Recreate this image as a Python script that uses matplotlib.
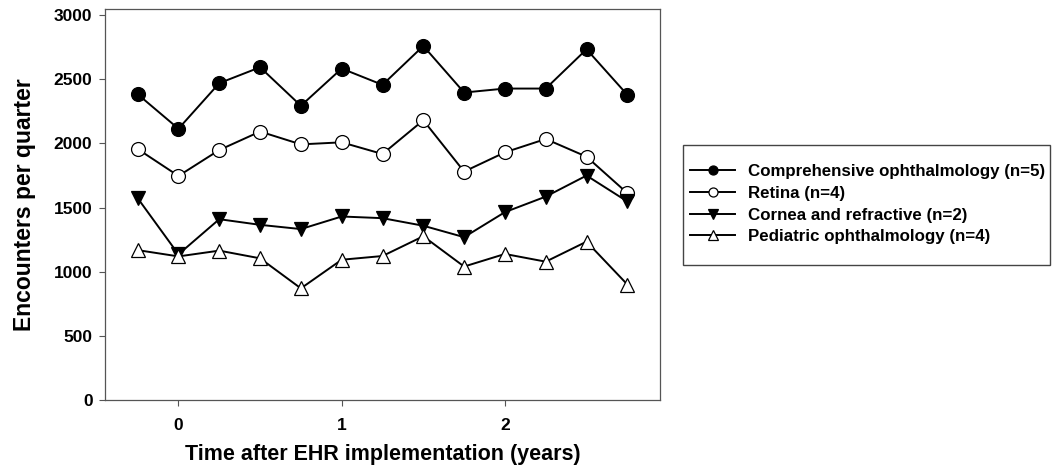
import matplotlib
matplotlib.use("Agg")
import matplotlib.pyplot as plt
from matplotlib.patches import Rectangle

plt.rcParams['font.family'] = ['Liberation Sans', 'DejaVu Sans']
plt.rcParams['font.weight'] = 'bold'

years = [-0.25, 0.0, 0.25, 0.5, 0.75, 1.0, 1.25, 1.5, 1.75, 2.0, 2.25, 2.5, 2.75]
comprehensive = [2383, 2114, 2469, 2593, 2293, 2583, 2456, 2759, 2396, 2427, 2427, 2733, 2378]
retina = [1956, 1746, 1948, 2092, 1992, 2008, 1917, 2180, 1780, 1930, 2034, 1896, 1612]
cornea = [1573, 1135, 1409, 1365, 1332, 1430, 1417, 1358, 1269, 1464, 1585, 1749, 1547]
pediatric = [1168, 1119, 1164, 1104, 870, 1093, 1122, 1276, 1040, 1138, 1078, 1234, 900]

labels = ["Comprehensive ophthalmology (n=5)", "Retina (n=4)",
          "Cornea and refractive (n=2)", "Pediatric ophthalmology (n=4)"]
xticks = [0, 1, 2]
yticks = [0, 500, 1000, 1500, 2000, 2500, 3000]

fig = plt.figure(figsize=(10.58, 4.75), dpi=100)
ax = fig.add_axes([105/1058, 1-400/475, (660-105)/1058, (400-9)/475])

ms = 10
common = dict(color='black', lw=1.4, markeredgecolor='black', markeredgewidth=0.9)
h1, = ax.plot(years, comprehensive, marker='o', ms=ms, markerfacecolor='black', label=labels[0], **common)
h2, = ax.plot(years, retina, marker='o', ms=ms, markerfacecolor='white', label=labels[1], **common)
h3, = ax.plot(years, cornea, marker='v', ms=ms, markerfacecolor='black', label=labels[2], **common)
h4, = ax.plot(years, pediatric, marker='^', ms=ms, markerfacecolor='white', label=labels[3], **common)

ax.set_xlim(-0.45, 2.95)
ax.set_ylim(0, 3047)
ax.set_xticks(xticks)
ax.set_yticks(yticks)
ax.set_xticklabels([str(t) for t in xticks], fontsize=12.5, fontweight='bold')
ax.set_yticklabels([str(t) for t in yticks], fontsize=12.5, fontweight='bold')
ax.tick_params(axis='y', direction='out', length=4, width=0.8, color='#555555', pad=5)
ax.tick_params(axis='x', direction='out', length=4, width=0.8, color='#555555', pad=9)
for s in ax.spines.values():
    s.set_color('#555555')
    s.set_linewidth(0.9)

ax.set_xlabel("Time after EHR implementation (years)", fontsize=15.5, fontweight='bold', labelpad=8)
ax.set_ylabel("Encounters per quarter", fontsize=16.5, fontweight='bold', labelpad=13)

fig.patches.append(Rectangle((683/1058, 1-265/475), (1050-683)/1058, (265-145)/475,
                             transform=fig.transFigure, fill=False, edgecolor='#444444', lw=1.0))
leg = fig.legend(handles=[h1, h2, h3, h4], loc='upper left',
                 bbox_to_anchor=(690/1058, 1-164/475), frameon=False,
                 prop={'size': 12.2, 'weight': 'bold'}, markerscale=0.65,
                 handlelength=2.66, handletextpad=0.75, labelspacing=0.4, borderpad=0.0,
                 borderaxespad=0.0)

fig.savefig("out.png", dpi=100)
